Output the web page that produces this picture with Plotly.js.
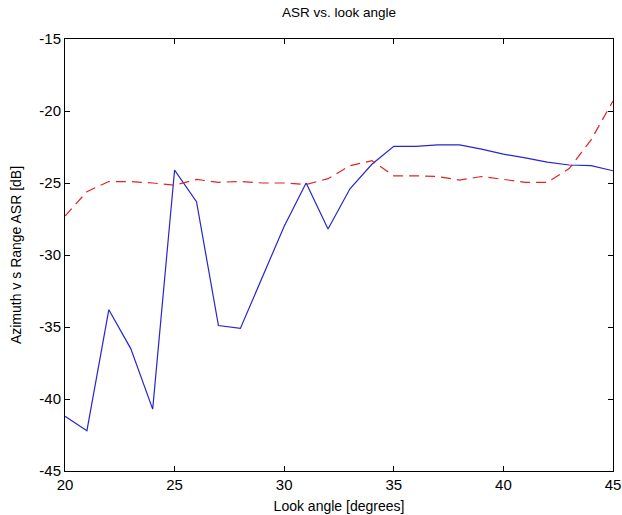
<!DOCTYPE html>
<html>
<head>
<meta charset="utf-8">
<script src="https://cdn.plot.ly/plotly-3.0.1.min.js"></script>
<style>html,body{margin:0;padding:0;background:#fff;}#chart{width:622px;height:515px;}</style>
</head>
<body>
<div id="chart"></div>
<script>
const lookAngle = [20,21,22,23,24,25,26,27,28,29,30,31,32,33,34,35,36,37,38,39,40,41,42,43,44,45];
const asrSolid = [-41.2,-42.2,-33.8,-36.5,-40.7,-24.1,-26.3,-34.9,-35.1,-31.5,-28.0,-25.0,-28.2,-25.4,-23.7,-22.45,-22.45,-22.35,-22.35,-22.65,-23.0,-23.25,-23.55,-23.75,-23.8,-24.15];
const asrDashed = [-27.3,-25.6,-24.9,-24.9,-25.0,-25.15,-24.75,-24.95,-24.9,-25.0,-25.0,-25.1,-24.7,-23.8,-23.45,-24.5,-24.5,-24.55,-24.8,-24.55,-24.75,-24.95,-24.95,-24.0,-22.0,-19.3];
const xTicks = [20,25,30,35,40,45];
const yTicks = [-45,-40,-35,-30,-25,-20,-15];

const traces = [
  {x: lookAngle, y: asrSolid, mode: 'lines', type: 'scatter',
   line: {color: '#2626cc', width: 1.2}, hoverinfo: 'skip'},
  {x: lookAngle, y: asrDashed, mode: 'lines', type: 'scatter',
   line: {color: '#e02424', width: 1.2, dash: '10px,6px'}, hoverinfo: 'skip'}
];

const fontFam = 'Liberation Sans, Arial, Helvetica, sans-serif';
const layout = {
  width: 622, height: 515,
  margin: {l: 65, r: 9, t: 38.5, b: 44, pad: 0},
  paper_bgcolor: '#ffffff', plot_bgcolor: '#ffffff',
  showlegend: false,
  font: {family: fontFam, size: 13, color: '#000'},
  title: {text: 'ASR vs. look angle', font: {family: fontFam, size: 13.5, color: '#000'},
          x: 0.5, xref: 'paper', xanchor: 'center', y: 0.977, yref: 'container', yanchor: 'middle'},
  xaxis: {
    range: [20, 45], tickvals: xTicks, ticktext: xTicks.map(String),
    ticks: 'inside', ticklen: 5, tickwidth: 1, tickcolor: '#000',
    showline: true, linecolor: '#000', linewidth: 1, mirror: 'ticks',
    showgrid: false, zeroline: false,
    tickfont: {family: fontFam, size: 15, color: '#000'},
    title: {text: 'Look angle [degrees]', font: {family: fontFam, size: 14, color: '#000'}, standoff: 9}
  },
  yaxis: {
    range: [-45, -15], tickvals: yTicks, ticktext: yTicks.map(String),
    ticks: 'inside', ticklen: 5, tickwidth: 1, tickcolor: '#000',
    showline: true, linecolor: '#000', linewidth: 1, mirror: 'ticks',
    showgrid: false, zeroline: false,
    tickfont: {family: fontFam, size: 15, color: '#000'},
    title: {text: 'Azimuth v s Range ASR [dB]', font: {family: fontFam, size: 14, color: '#000'}, standoff: 14}
  }
};

Plotly.newPlot('chart', traces, layout, {staticPlot: true, displayModeBar: false});
</script>
</body>
</html>
